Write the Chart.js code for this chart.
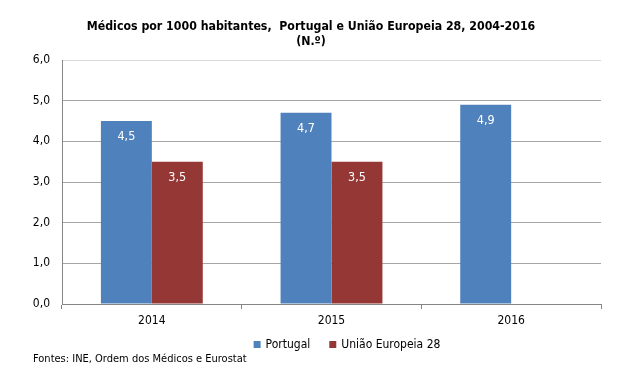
<!DOCTYPE html>
<html>
<head>
<meta charset="utf-8">
<script src="https://cdn.jsdelivr.net/npm/chart.js@4"></script>
<style>
  html, body { margin: 0; padding: 0; background: #fff; }
  #wrap { width: 631px; height: 387px; position: relative; }
</style>
</head>
<body>
<div id="wrap"><canvas id="medicosChart" width="631" height="387"></canvas></div>
<script>
// Médicos por 1000 habitantes
const years = ['2014', '2015', '2016'];
const portugal = [4.5, 4.7, 4.9];
const ue28 = [3.5, 3.5, null];
const yTicks = [0, 1, 2, 3, 4, 5, 6];

const titleLines = ['Médicos por 1000 habitantes,  Portugal e União Europeia 28, 2004-2016', '(N.º)'];
const sourceText = 'Fontes: INE, Ordem dos Médicos e Eurostat';

const FONT = "'DejaVu Sans Condensed', 'Liberation Sans', sans-serif";
const BLUE = '#4F81BD';
const RED = '#953735';
const AXIS = '#868686';

const fmt = v => v.toFixed(1).replace('.', ',');

// titulo, legenda, fonte e valores desenhados a mao
const extras = {
  id: 'extras',
  afterDatasetsDraw(chart) {
    const ctx = chart.ctx;
    ctx.save();

    // valores dentro das barras
    ctx.font = '12.5px ' + FONT;
    ctx.fillStyle = '#fff';
    ctx.textAlign = 'center';
    ctx.textBaseline = 'middle';
    chart.data.datasets.forEach((ds, i) => {
      chart.getDatasetMeta(i).data.forEach((bar, j) => {
        const v = ds.data[j];
        if (v == null) return;
        ctx.fillText(fmt(v), bar.x, bar.y + 16);
      });
    });

    // titulo
    ctx.fillStyle = '#000';
    ctx.font = 'bold 12.25px ' + FONT;
    ctx.fillText(titleLines[0], 311, 27);
    ctx.fillText(titleLines[1], 311, 42);

    // legenda
    ctx.font = '12px ' + FONT;
    const items = chart.data.datasets.map(ds => ({ label: ds.label, color: ds.backgroundColor }));
    const box = 7, gap = 5, between = 19;
    let total = 0;
    items.forEach((it, i) => {
      it.w = ctx.measureText(it.label).width;
      total += box + gap + it.w + (i < items.length - 1 ? between : 0);
    });
    let x = 347 - total / 2;
    const ly = 345;
    ctx.textAlign = 'left';
    items.forEach(it => {
      ctx.fillStyle = it.color;
      ctx.fillRect(x, ly - 4, box, box);
      ctx.fillStyle = '#000';
      ctx.fillText(it.label, x + box + gap, ly);
      x += box + gap + it.w + between;
    });

    // fonte
    ctx.font = '11px ' + FONT;
    ctx.fillText(sourceText, 33, 359);

    ctx.restore();
  }
};

new Chart(document.getElementById('medicosChart'), {
  type: 'bar',
  data: {
    labels: years,
    datasets: [
      {
        label: 'Portugal',
        data: portugal,
        backgroundColor: BLUE,
        categoryPercentage: 0.567,
        barPercentage: 1,
      },
      {
        label: 'União Europeia 28',
        data: ue28,
        backgroundColor: RED,
        categoryPercentage: 0.567,
        barPercentage: 1,
      },
    ],
  },
  options: {
    responsive: false,
    animation: false,
    events: [],
    layout: { padding: { top: 60, right: 30, bottom: 53, left: 0 } },
    plugins: {
      legend: { display: false },
      title: { display: false },
      tooltip: { enabled: false },
    },
    scales: {
      x: {
        afterFit(scale) { scale.height = 30; },
        grid: {
          offset: true,
          drawOnChartArea: false,
          tickLength: 5,
          color: AXIS,
        },
        border: { color: AXIS },
        ticks: { color: '#000', padding: 5, font: { family: FONT, size: 12 } },
      },
      y: {
        min: 0,
        max: 6,
        afterFit(scale) { scale.width = 62; },
        afterBuildTicks(scale) { scale.ticks = yTicks.map(v => ({ value: v })); },
        grid: {
          drawTicks: false,
          color: ctx => (ctx.tick && ctx.tick.value === 6 ? '#d9d9d9' : '#a6a6a6'),
        },
        border: { color: AXIS },
        ticks: {
          color: '#000',
          padding: 12,
          font: { family: FONT, size: 12 },
          callback: v => fmt(v),
        },
      },
    },
  },
  plugins: [extras],
});
</script>
</body>
</html>
